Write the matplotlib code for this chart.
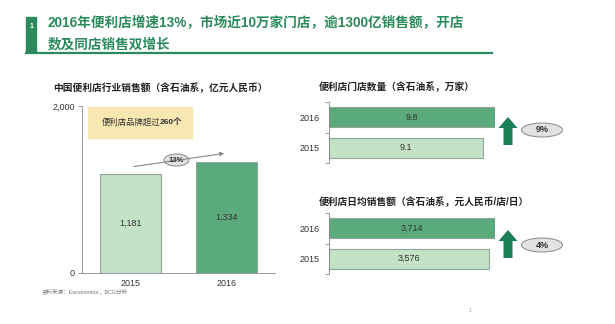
import matplotlib
matplotlib.use("Agg")
import matplotlib.pyplot as plt
from matplotlib.patches import Rectangle, Ellipse, FancyArrow

plt.rcParams['font.family'] = ['Liberation Sans', 'Noto Sans CJK SC', 'DejaVu Sans']

# data
years = ['2015', '2016']
sales = [1181, 1334]            # 亿元人民币
sales_labels = ['1,181', '1,334']
stores = [9.1, 9.8]             # 万家
store_labels = ['9.1', '9.8']
daily = [3576, 3714]            # 元人民币/店/日
daily_labels = ['3,576', '3,714']

title1 = '2016年便利店增速13%，市场近10万家门店，逾1300亿销售额，开店'
title2 = '数及同店销售双增长'
sales_title = '中国便利店行业销售额（含石油系，亿元人民币）'
stores_title = '便利店门店数量（含石油系，万家）'
daily_title = '便利店日均销售额（含石油系，元人民币/店/日）'
note_a = '便利店品牌超过'
note_b = '260个'
source = '资料来源：Euromonitor，BCG分析'

dark = '#5aaa7c'
light = '#c3e2c6'
edge = '#8fa89a'
green = '#2b8a5c'
arrow_green = '#1d7f55'
grey = '#888888'
txt = '#333333'

W, H = 615, 324
fig = plt.figure(figsize=(W / 100, H / 100), dpi=100)


def box(x0, y0, x1, y1):
    # pixel box (top-left origin) -> figure fraction
    return [x0 / W, 1 - y1 / H, (x1 - x0) / W, (y1 - y0) / H]


# left: sales column chart
ax = fig.add_axes(box(82, 106, 275, 273))
ax.patch.set_visible(False)
ax.bar([0, 1], sales, width=0.63, color=[light, dark], edgecolor=edge, linewidth=0.8)
for i, v in enumerate(sales):
    ax.text(i, v / 2, sales_labels[i], ha='center', va='center', fontsize=6.5, color=txt)
ax.set_xlim(-0.5, 1.5)
ax.set_ylim(0, 2000)
ax.set_yticks([0, 2000])
ax.set_yticklabels(['0', '2,000'])
ax.set_xticks([0, 1])
ax.set_xticklabels(years)
ax.tick_params(axis='y', length=3, width=0.6, color=grey, labelsize=6.5, labelcolor=txt, pad=2)
ax.tick_params(axis='x', length=0, labelsize=6.5, labelcolor=txt, pad=4)
for s in ['top', 'right']:
    ax.spines[s].set_visible(False)
for s in ['left', 'bottom']:
    ax.spines[s].set_color(grey)
    ax.spines[s].set_linewidth(0.6)


def hbars(rect, vals, labels, xmax):
    a = fig.add_axes(box(*rect))
    a.patch.set_visible(False)
    a.barh([0, 1], vals, height=0.65, color=[light, dark], edgecolor=edge, linewidth=0.8)
    for i, v in enumerate(vals):
        a.text(v / 2, i, labels[i], ha='center', va='center', fontsize=6.5, color=txt)
    a.set_xlim(0, xmax)
    a.set_ylim(-0.5, 1.5)
    a.set_xticks([])
    a.set_yticks([0, 1])
    a.set_yticklabels(years)
    a.set_yticks([-0.5, 0.5, 1.5], minor=True)
    a.tick_params(axis='y', which='major', length=0, labelsize=6.5, labelcolor=txt, pad=7)
    a.tick_params(axis='y', which='minor', length=3, width=0.6, color=grey)
    for s in ['top', 'right', 'bottom']:
        a.spines[s].set_visible(False)
    a.spines['left'].set_color(grey)
    a.spines['left'].set_linewidth(0.6)
    return a


hbars((329, 102, 495, 163), stores, store_labels, 9.8)
hbars((329, 213, 495, 274), daily, daily_labels, 3714)

# overlay in pixel coordinates for titles and decorations
o = fig.add_axes([0, 0, 1, 1])
o.patch.set_visible(False)
o.set_xlim(0, W)
o.set_ylim(H, 0)
o.axis('off')

o.add_patch(Rectangle((26, 17), 10, 35, color=green))
o.text(31, 26, '1', color='white', fontsize=5, ha='center', va='center', fontweight='bold')
o.text(48, 23, title1, fontsize=9.8, fontweight='bold', color=green, va='center')
o.text(48, 44, title2, fontsize=9.8, fontweight='bold', color=green, va='center')
o.plot([26, 492], [53, 53], color=green, lw=1.6)

o.text(53, 88, sales_title, fontsize=7, fontweight='bold', color='#222222', va='center')
o.text(319, 87, stores_title, fontsize=7, fontweight='bold', color='#222222', va='center')
o.text(319, 202, daily_title, fontsize=7, fontweight='bold', color='#222222', va='center')

# note box
o.add_patch(Rectangle((88, 107), 104, 31, color='#f7e8b2'))
o.text(160, 122.5, note_a, fontsize=6, color=txt, ha='right', va='center')
o.text(160, 122.5, note_b, fontsize=6, color=txt, fontweight='bold', ha='left', va='center')

# 13% growth arrow
o.annotate('', xy=(227, 153), xytext=(131, 167),
           arrowprops=dict(arrowstyle='-|>', color=grey, lw=0.8, mutation_scale=6))
o.add_patch(Ellipse((176.5, 160), 25, 12, fc='#e2e2e2', ec=grey, lw=0.7))
o.text(176.5, 160, '13%', fontsize=5.5, fontweight='bold', color=txt, ha='center', va='center')

# up arrows with growth ellipses
for yb, yc, lab in [(145, 130, '9%'), (258, 245, '4%')]:
    o.add_patch(FancyArrow(508, yb, 0, -28, width=9, head_width=19, head_length=11,
                           length_includes_head=True, color=arrow_green, lw=0))
    o.add_patch(Ellipse((542, yc), 41, 14, fc='#e2e2e2', ec=grey, lw=0.7))
    o.text(542, yc, lab, fontsize=6.5, fontweight='bold', color=txt, ha='center', va='center')

o.text(42, 291, source, fontsize=4, color='#777777', va='center')
o.text(470, 310, '1', fontsize=3.5, color='#999999', ha='center', va='center')

fig.savefig('out.png', dpi=100)
